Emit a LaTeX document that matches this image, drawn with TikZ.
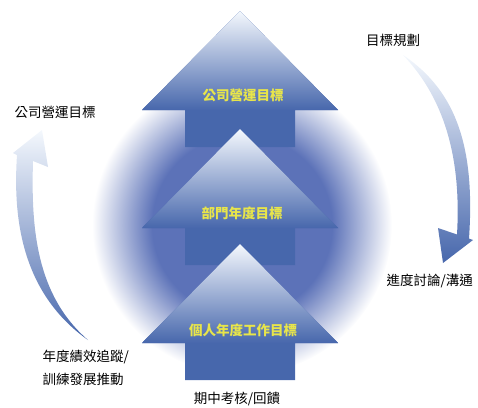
\documentclass[tikz,border=0pt]{standalone}
\usepackage{fontspec}
\setmainfont{Noto Sans CJK TC}
\usepackage{tikz}

\definecolor{arrowblue}{HTML}{4767AC}
\definecolor{arrowlight}{HTML}{F4F8FD}
\definecolor{labelyellow}{HTML}{E8E54A}
\definecolor{glowblue}{HTML}{5C72B8}

\pgfdeclareradialshading{glow}{\pgfpoint{0bp}{0bp}}{color(0bp)=(glowblue); color(15bp)=(glowblue); color(25bp)=(white); color(50bp)=(white)}

\tikzset{
  goal/.style={font=\fontsize{13.5}{16}\selectfont\bfseries, text=labelyellow},
  phase/.style={font=\fontsize{13.5}{23}\selectfont, text=black},
}

\begin{document}
\begin{tikzpicture}[x=1pt, y=-1pt]

\useasboundingbox (0,0) rectangle (478,407);

% glow behind the arrows
\shade[shading=glow] (242,225) circle (150pt);

% stacked arrows, top to bottom
\foreach \b in {110,228,343} {
  \fill[arrowblue] (142,\b) -- (240,\b-99) -- (338,\b) -- (295,\b) -- (295,\b+37) -- (185,\b+37) -- (185,\b) -- cycle;
  \shade[top color=arrowlight, bottom color=arrowblue] (142,\b) -- (240,\b-99) -- (338,\b) -- cycle;
}

% left arrow (up)
\shade[top color=arrowlight, middle color=arrowblue!85!white, bottom color=arrowblue]
  (88,340) .. controls (20,292) and (13,215) .. (17,155) -- (13,153) -- (42,130) -- (48,167) -- (33,161)
  .. controls (31,228) and (36,295) .. (88,340) -- cycle;

% right arrow (down)
\shade[top color=arrowlight, middle color=arrowblue!80!white, bottom color=arrowblue]
  (403,55) .. controls (458,92) and (475,150) .. (469,238.6) -- (473,240) -- (443,263) -- (438,228) -- (457,234.5)
  .. controls (461,165) and (448,102) .. (403,55) -- cycle;

% labels on the arrows
\node[goal] (company) at (243,95) {公司營運目標};
\node[goal] (dept) at (242,213) {部門年度目標};
\node[goal] (person) at (243,330) {個人年度工作目標};

% cycle labels
\node[phase] (plan) at (393,40) {目標規劃};
\node[phase, anchor=west] (talk) at (383,281) {進度討論/溝通};
\node[phase] (review) at (237,399) {期中考核/回饋};
\node[phase, anchor=west, align=left] (track) at (39,368) {年度績效追蹤/\\訓練發展推動};
\node[phase] (target) at (55,112) {公司營運目標};

\end{tikzpicture}
\end{document}
